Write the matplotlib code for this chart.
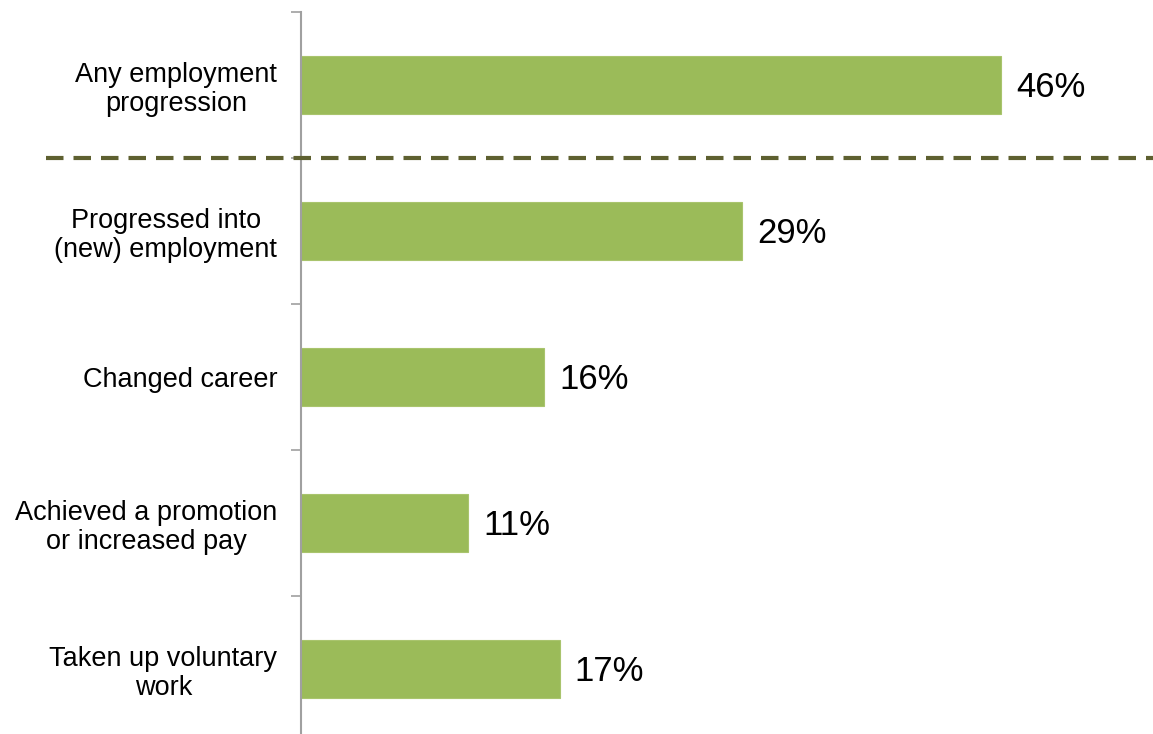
import matplotlib.pyplot as plt
import numpy as np

plt.rcParams['font.family'] = ['Liberation Sans', 'DejaVu Sans']

categories = ["Any employment\nprogression",
              "Progressed into\n(new) employment",
              "Changed career",
              "Achieved a promotion\nor increased pay",
              "Taken up voluntary\nwork"]
values = [46, 29, 16, 11, 17]

fig = plt.figure(figsize=(11.53, 7.34), dpi=100)
ax = fig.add_axes([0.261, -8 / 734, 0.739, 730 / 734])

y = np.arange(len(categories))
ax.barh(y, values, height=0.4, color='#9BBB59', edgecolor='#A9C46D', linewidth=0.8)

for yi, v in zip(y, values):
    ax.annotate(f"{v}%", (v, yi), xytext=(11, -2), textcoords='offset points',
                va='center', ha='left', fontsize=25, color='black')

# dashed divider under the summary bar
ax.axhline(0.5, xmin=-0.299, xmax=1.0, color='#5E6030', linewidth=3,
           dashes=(4.2, 2.4), clip_on=False, zorder=3)

ax.set_xlim(0, 56)
ax.set_ylim(len(categories) - 0.5, -0.5)

for s in ['top', 'right', 'bottom']:
    ax.spines[s].set_visible(False)
ax.spines['left'].set_color('#A0A0A0')
ax.spines['left'].set_linewidth(1.5)

ax.set_xticks([])
ax.set_yticks(y)
ax.set_yticklabels(categories, fontsize=19.5, multialignment='center', linespacing=1.15)
ax.tick_params(axis='y', which='major', length=0, pad=17)
ax.set_yticks(np.arange(-0.5, len(categories)), minor=True)
ax.tick_params(axis='y', which='minor', length=7, width=1.2, color='#A0A0A0')

fig.savefig('out.png', dpi=100)
